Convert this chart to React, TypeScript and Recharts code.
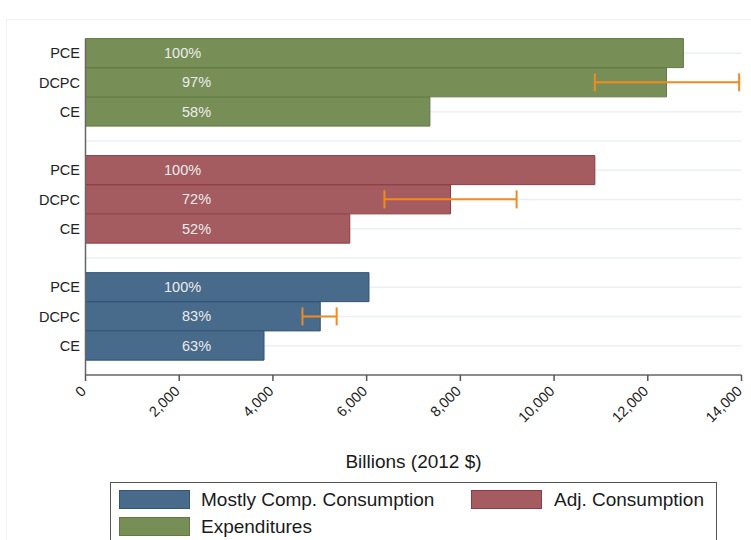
import React from 'react';
import {
  BarChart,
  Bar,
  XAxis,
  YAxis,
  CartesianGrid,
  Cell,
  ErrorBar,
  LabelList,
  Legend,
} from 'recharts';

// Spending measures shown inside each group, top to bottom
const measures = ['PCE', 'DCPC', 'CE'];
// Groups, top to bottom
const groupNames = ['Expenditures', 'Adj. Consumption', 'Mostly Comp. Consumption'];
// Billions of 2012 dollars, ordered like `measures`
const expenditures = [12760, 12400, 7350];
const adjConsumption = [10870, 7790, 5640];
const mostlyComp = [6050, 5010, 3810];
// DCPC interval bounds per group, ordered like `groupNames`
const dcpcLow = [10870, 6380, 4630];
const dcpcHigh = [13950, 9200, 5360];
const xTicks = [0, 2000, 4000, 6000, 8000, 10000, 12000, 14000];
// Legend lists the groups bottom to top
const legendOrder = [2, 1, 0];

const FONT = '"Liberation Sans", Arial, Helvetica, sans-serif';

const groupColors = [
  { fill: '#778f57', stroke: '#5f7a42' },
  { fill: '#a45c60', stroke: '#8d3b43' },
  { fill: '#486a8b', stroke: '#31557a' },
];

type Row = {
  key: string;
  label: string;
  group: number;
  value: number | null;
  pct?: string;
  err?: [number, number];
};

const groupValues = [expenditures, adjConsumption, mostlyComp];

const rows: Row[] = [];
groupValues.forEach((vals, g) => {
  vals.forEach((v, m) => {
    rows.push({
      key: `g${g}m${m}`,
      label: measures[m],
      group: g,
      value: v,
      pct: `${Math.round((v / vals[0]) * 100)}%`,
      err: measures[m] === 'DCPC' ? [v - dcpcLow[g], dcpcHigh[g] - v] : undefined,
    });
  });
  if (g < groupValues.length - 1) {
    rows.push({ key: `gap${g}`, label: '', group: g, value: null });
  }
});

const labelByKey: Record<string, string> = {};
rows.forEach((r) => {
  labelByKey[r.key] = r.label;
});

const fmt = (v: number) => v.toLocaleString('en-US');

const XTick = (props: any) => {
  const { x, y, payload } = props;
  const ax = x + 1.5;
  const ay = y + 9;
  return (
    <text
      x={ax}
      y={ay}
      transform={`rotate(-45, ${ax}, ${ay})`}
      textAnchor="end"
      fontSize={14.5}
      fontFamily={FONT}
      fill="#222"
    >
      {fmt(payload.value)}
    </text>
  );
};

const PctLabel = (props: any) => {
  const { value } = props;
  if (!value) return null;
  const vb = props.viewBox ?? props;
  const x0 = vb.x ?? props.x;
  const y0 = vb.y ?? props.y;
  const h = vb.height ?? props.height;
  const text = String(value);
  const px = x0 + (text.length >= 4 ? 78.5 : 96.5);
  return (
    <text
      x={px}
      y={y0 + h / 2}
      dominantBaseline="central"
      fontSize={14.5}
      fontFamily={FONT}
      fill="#ececec"
    >
      {text}
    </text>
  );
};

const AxisTitle = (props: any) => {
  const vb = props.viewBox;
  return (
    <text
      x={vb.x + vb.width / 2}
      y={vb.y + 93}
      textAnchor="middle"
      fontSize={19}
      fontFamily={FONT}
      fill="#1a1a1a"
    >
      Billions (2012 $)
    </text>
  );
};

const legendSlots = [
  { swatchX: 7.5, textX: 90, y: 7 },
  { swatchX: 360, textX: 443, y: 7 },
  { swatchX: 7.5, textX: 90, y: 34 },
];

const LegendBox = () => (
  <div
    style={{
      position: 'relative',
      width: '100%',
      height: '100%',
      boxSizing: 'border-box',
      border: '1.5px solid #555',
      background: '#fff',
      fontFamily: FONT,
    }}
  >
    {legendOrder.map((g, i) => {
      const slot = legendSlots[i];
      return (
        <React.Fragment key={groupNames[g]}>
          <div
            style={{
              position: 'absolute',
              left: slot.swatchX,
              top: slot.y,
              width: 71,
              height: 19,
              boxSizing: 'border-box',
              background: groupColors[g].fill,
              border: `1px solid ${groupColors[g].stroke}`,
            }}
          />
          <div
            style={{
              position: 'absolute',
              left: slot.textX,
              top: slot.y - 2,
              height: 23,
              lineHeight: '23px',
              fontSize: 19,
              color: '#1a1a1a',
              whiteSpace: 'nowrap',
            }}
          >
            {groupNames[g]}
          </div>
        </React.Fragment>
      );
    })}
  </div>
);

export default function App() {
  return (
    <div
      style={{
        position: 'absolute',
        left: 0,
        top: 0,
        width: 751,
        height: 540,
        overflow: 'hidden',
        background: '#fff',
      }}
    >
      <div
        style={{
          position: 'absolute',
          left: 6,
          top: 19,
          width: 800,
          height: 600,
          border: '1px solid #f0f3f6',
        }}
      />
      <BarChart
        width={751}
        height={540}
        data={rows}
        layout="vertical"
        margin={{ top: 38.6, right: 9.5, bottom: 0, left: 0 }}
        barCategoryGap={0}
        style={{ position: 'absolute', left: 0, top: 0 }}
      >
        <CartesianGrid
          horizontal={true}
          vertical={false}
          syncWithTicks
          stroke="#eaf0f4"
          strokeWidth={1.5}
        />
        <XAxis
          type="number"
          domain={[0, 14000]}
          ticks={xTicks}
          interval={0}
          allowDataOverflow
          height={165}
          tickSize={6}
          tickLine={{ stroke: '#555', strokeWidth: 1.5 }}
          axisLine={{ stroke: '#666', strokeWidth: 1.5 }}
          tick={<XTick />}
          label={<AxisTitle />}
        />
        <YAxis
          type="category"
          dataKey="key"
          width={85.5}
          interval={0}
          padding={{ top: 0, bottom: 14.6 }}
          tickLine={false}
          tickSize={0}
          tickMargin={5.5}
          axisLine={{ stroke: '#666', strokeWidth: 1.5 }}
          tickFormatter={(k: string) => labelByKey[k] ?? ''}
          tick={{ fontSize: 14.5, fill: '#222', fontFamily: FONT }}
        />
        <Bar dataKey="value" isAnimationActive={false} strokeWidth={1}>
          {rows.map((r) => (
            <Cell
              key={r.key}
              fill={groupColors[r.group].fill}
              stroke={groupColors[r.group].stroke}
            />
          ))}
          <LabelList dataKey="pct" content={<PctLabel />} />
          <ErrorBar
            dataKey="err"
            direction="x"
            width={9}
            stroke="#f28a22"
            strokeWidth={2}
            isAnimationActive={false}
          />
        </Bar>
        <Legend
          layout="horizontal"
          verticalAlign="middle"
          align="center"
          wrapperStyle={{ left: 110, top: 482, width: 607, height: 70 }}
          content={<LegendBox />}
        />
      </BarChart>
    </div>
  );
}
